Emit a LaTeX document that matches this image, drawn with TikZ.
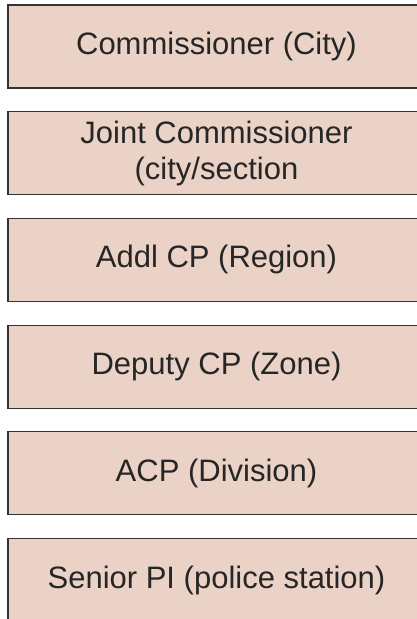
\documentclass[tikz,border=0pt]{standalone}
\usepackage{fontspec}
\setmainfont{Liberation Sans}
\usepackage{xcolor}
\usetikzlibrary{positioning}

\definecolor{rankfill}{HTML}{EBD2C6}
\definecolor{rankline}{HTML}{333333}

\begin{document}
\begin{tikzpicture}[
    node distance=23.7pt,
    rank/.style={rectangle, draw=rankline, line width=1.2pt, fill=rankfill, minimum width=417pt, minimum height=83pt, align=center, inner sep=0pt, outer sep=0pt, text=black!85, font=\fontsize{31}{36}\selectfont}
]

\useasboundingbox (0,0) rectangle (417pt,-619pt);

\node[rank] (commissioner) at (216.5pt,-46.5pt) {Commissioner (City)};
\node[rank, below=of commissioner] (joint) {Joint Commissioner \\ (city/section};
\node[rank, below=of joint] (addl) {Addl CP (Region)};
\node[rank, below=of addl] (deputy) {Deputy CP (Zone)};
\node[rank, below=of deputy] (acp) {ACP (Division)};
\node[rank, below=of acp] (senior) {Senior PI (police station)};

\end{tikzpicture}
\end{document}
